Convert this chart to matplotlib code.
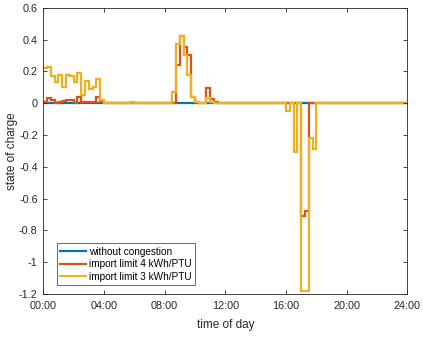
import numpy as np
import matplotlib
matplotlib.use("Agg")
import matplotlib.pyplot as plt

# 15 minute PTUs over one day
n_ptu = 96
hours = np.arange(n_ptu + 1) / 4.0

# night (starting 00:00, one value per PTU)
red_night = [0.01, 0.03, 0.02, 0.0, 0.01, 0.015, 0.02, 0.02,
             0.0, 0.04, 0.01, 0.01, 0.01, 0.01, 0.04, 0.01]
yel_night = [0.22, 0.23, 0.17, 0.13, 0.18, 0.10, 0.18, 0.17,
             0.13, 0.19, 0.05, 0.14, 0.09, 0.10, 0.15, 0.02]
# morning (starting 08:30)
red_morning = [0.0, 0.24, 0.42, 0.355, 0.30, 0.04, 0.01, 0.0, 0.0, 0.095, 0.025, 0.01]
yel_morning = [0.07, 0.37, 0.42, 0.30, 0.18, 0.04, 0.01, 0.0, 0.0, 0.035, 0.01, 0.0]
# afternoon (starting 16:00)
red_afternoon = [0.0, 0.0, 0.0, 0.0, -0.71, -0.68, 0.0, 0.0]
yel_afternoon = [-0.05, 0.0, -0.31, 0.0, -1.18, -1.18, -0.22, -0.29]

labels = ['without congestion', 'import limit 4 kWh/PTU', 'import limit 3 kWh/PTU']
colors = ['#0072BD', '#D95319', '#EDB120']

blue = np.zeros(n_ptu)
red = np.zeros(n_ptu)
yel = np.zeros(n_ptu)
red[0:16] = red_night
yel[0:16] = yel_night
yel[23] = 0.01  # small blip around 05:45
red[34:34 + len(red_morning)] = red_morning
yel[34:34 + len(yel_morning)] = yel_morning
red[64:72] = red_afternoon
yel[64:72] = yel_afternoon

plt.rcParams['font.family'] = 'Liberation Sans'
fig = plt.figure(figsize=(4.23, 3.37), dpi=100)
ax = fig.add_axes([0.1024, 0.1276, 0.8606, 0.8495])

for vals, c, lab in zip([blue, red, yel], colors, labels):
    ax.stairs(vals, hours, baseline=None, color=c, linewidth=1.6, label=lab)

ax.set_xlim(0, 24)
ax.set_ylim(-1.2, 0.6)
ax.set_xticks(range(0, 25, 4))
ax.set_xticklabels(['%02d:00' % h for h in range(0, 25, 4)])
yt = np.round(np.arange(-1.2, 0.61, 0.2), 1)
ax.set_yticks(yt)
ax.set_yticklabels(['0' if v == 0 else ('%g' % v) for v in yt])
ax.tick_params(direction='in', top=True, right=True, length=3, width=0.6,
               labelsize=7.8, colors='#262626')
ax.tick_params(axis='x', pad=5)
ax.tick_params(axis='y', pad=4)
for s in ax.spines.values():
    s.set_color('#262626')
    s.set_linewidth(0.6)
ax.set_xlabel('time of day', fontsize=8.5, color='#262626', labelpad=6)
ax.set_ylabel('state of charge', fontsize=8.5, color='#262626', labelpad=1)

leg = ax.legend(loc='lower left', bbox_to_anchor=(0.037, 0.031), borderaxespad=0,
                fontsize=7.2, frameon=True, fancybox=False, handlelength=2.6,
                handletextpad=0.3, labelspacing=0.25, borderpad=0.35)
leg.get_frame().set_edgecolor('#262626')
leg.get_frame().set_linewidth(0.6)

fig.savefig('out.png', dpi=100)
